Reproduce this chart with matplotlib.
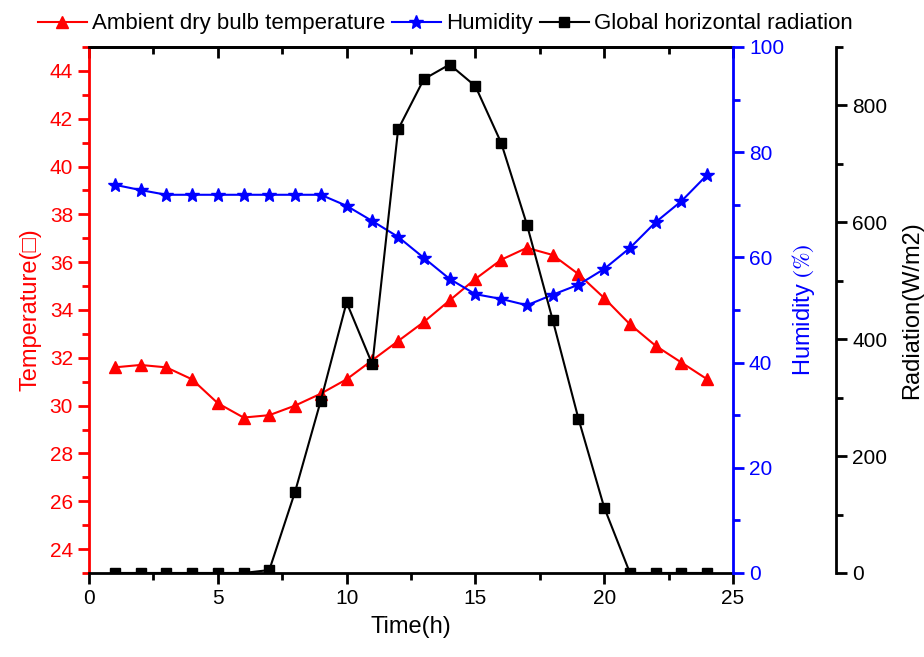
import matplotlib
matplotlib.use("Agg")
import matplotlib.pyplot as plt
from matplotlib.ticker import MultipleLocator

plt.rcParams['font.family'] = ['Liberation Sans', 'DejaVu Sans']
plt.rcParams['mathtext.fontset'] = 'stix'

hours = list(range(1, 25))
temperature = [31.6, 31.7, 31.6, 31.1, 30.1, 29.5, 29.6, 30.0, 30.5, 31.1, 31.9, 32.7,
               33.5, 34.4, 35.3, 36.1, 36.6, 36.3, 35.5, 34.5, 33.4, 32.5, 31.8, 31.1]
humidity = [73.8, 72.8, 71.9, 71.9, 71.9, 71.9, 71.9, 71.9, 71.9, 69.8, 66.9, 63.9,
            59.9, 55.9, 53.0, 52.1, 50.9, 52.9, 54.8, 57.8, 61.8, 66.7, 70.7, 75.7]
radiation = [0, 0, 0, 0, 0, 0, 5, 139, 295, 463, 357, 759,
             845, 870, 833, 736, 596, 433, 264, 112, 0, 0, 0, 0]

fig = plt.figure(figsize=(9.24, 6.57), dpi=100)
ax = fig.add_axes([0.0963, 0.1279, 0.697, 0.8006])
ax2 = ax.twinx()
ax3 = ax.twinx()

l1, = ax.plot(hours, temperature, color='red', marker='^', markersize=9, lw=1.5,
              label='Ambient dry bulb temperature')
l2, = ax2.plot(hours, humidity, color='blue', marker='*', markersize=10, lw=1.5,
               label='Humidity')
l3, = ax3.plot(hours, radiation, color='black', marker='s', markersize=7, lw=1.5,
               label='Global horizontal radiation')

ax.set_xlim(0, 25)
ax.set_ylim(23, 45)
ax2.set_ylim(0, 100)
ax3.set_ylim(0, 900)

ax.xaxis.set_major_locator(MultipleLocator(5))
ax.xaxis.set_minor_locator(MultipleLocator(2.5))
ax.yaxis.set_major_locator(MultipleLocator(2))
ax.yaxis.set_minor_locator(MultipleLocator(1))
ax2.yaxis.set_major_locator(MultipleLocator(20))
ax2.yaxis.set_minor_locator(MultipleLocator(10))
ax3.yaxis.set_major_locator(MultipleLocator(200))
ax3.yaxis.set_minor_locator(MultipleLocator(100))

fs = 15
# spines
for a in (ax, ax2, ax3):
    for s in a.spines.values():
        s.set_linewidth(2)
ax.spines['left'].set_color('red')
ax2.spines['right'].set_color('blue')
ax3.spines['right'].set_position(('axes', 1.16))
ax3.spines['right'].set_color('black')
for a in (ax2, ax3):
    a.spines['left'].set_visible(False)
    a.spines['top'].set_visible(False)
    a.spines['bottom'].set_visible(False)
ax.spines['right'].set_visible(False)

ax.tick_params(axis='x', which='major', direction='out', length=8, width=2, labelsize=fs)
ax.tick_params(axis='x', which='minor', direction='out', length=5, width=2)
ax.tick_params(axis='y', which='major', direction='out', length=8, width=2, colors='red',
               labelsize=fs)
ax.tick_params(axis='y', which='minor', direction='out', length=5, width=2, colors='red')
ax2.tick_params(axis='y', which='major', direction='out', length=8, width=2, colors='blue',
                labelsize=fs)
ax2.tick_params(axis='y', which='minor', direction='out', length=5, width=2, colors='blue')
ax3.tick_params(axis='y', which='major', direction='out', length=8, width=2, colors='black',
                labelsize=fs)
ax3.tick_params(axis='y', which='minor', direction='out', length=5, width=2, colors='black')

# top ticks point inward
sec = ax.secondary_xaxis('top')
sec.xaxis.set_major_locator(MultipleLocator(5))
sec.xaxis.set_minor_locator(MultipleLocator(2.5))
sec.tick_params(which='major', direction='in', length=8, width=2, labeltop=False)
sec.tick_params(which='minor', direction='in', length=5, width=2)
sec.spines['top'].set_linewidth(2)

ax.set_xlabel('Time(h)', fontsize=17, labelpad=6)
ax.set_ylabel('Temperature(\u25a1)', fontsize=17, color='red', labelpad=6)
ax2.set_ylabel(r'Humidity $\mathrm{(\%)}$', fontsize=17, color='blue', labelpad=4)
ax3.set_ylabel('Radiation(W/m2)', fontsize=17, color='black', labelpad=10)

fig.legend(handles=[l1, l2, l3], loc='upper center', bbox_to_anchor=(0.482, 1.01),
           ncol=3, frameon=False, fontsize=16, handlelength=2.2, handletextpad=0.25,
           columnspacing=0.3)

fig.savefig('out.png', dpi=100)
